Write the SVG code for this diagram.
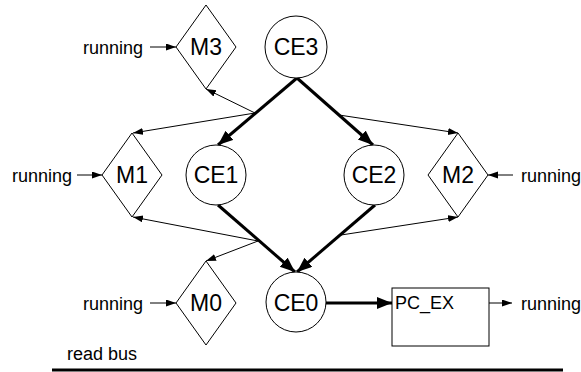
<svg xmlns="http://www.w3.org/2000/svg" width="581" height="372" viewBox="0 0 581 372">
<style>
text { font-family: "Liberation Sans", Arial, sans-serif; fill: #000; }
.lbl { font-size: 23px; text-anchor: middle; }
.sm { font-size: 18px; }
.node { fill: #fff; stroke: #000; stroke-width: 1; }
.thin { stroke: #000; stroke-width: 1; fill: none; marker-end: url(#ah); }
.thick { stroke: #000; stroke-width: 3; fill: none; marker-end: url(#ahb); }
</style>
<defs>
<marker id="ah" markerUnits="userSpaceOnUse" markerWidth="11" markerHeight="8" refX="10" refY="3.5" orient="auto">
<path d="M0,0 L10,3.5 L0,7 z" fill="#000"/>
</marker>
<marker id="ahb" markerUnits="userSpaceOnUse" markerWidth="16" markerHeight="13" refX="15" refY="6" orient="auto">
<path d="M0,0 L15,6 L0,12 z" fill="#000"/>
</marker>
</defs>
<rect width="581" height="372" fill="#fff"/>
<g id="connectors">
<line class="thick" x1="297" y1="78" x2="218" y2="145"/>
<line class="thick" x1="297" y1="78" x2="373" y2="145"/>
<line class="thick" x1="218" y1="205" x2="295" y2="272"/>
<line class="thick" x1="375" y1="205" x2="297" y2="272"/>
<line class="thick" x1="326" y1="303" x2="392" y2="303"/>
<line class="thin" x1="255" y1="113" x2="206" y2="89"/>
<line class="thin" x1="255" y1="113" x2="133" y2="133"/>
<line class="thin" x1="339" y1="115" x2="458" y2="133"/>
<line class="thin" x1="258" y1="241" x2="133" y2="217"/>
<line class="thin" x1="258" y1="241" x2="206" y2="261"/>
<line class="thin" x1="341" y1="235" x2="458" y2="217"/>
<line class="thin" x1="150" y1="47" x2="176" y2="47"/>
<line class="thin" x1="77" y1="175" x2="102" y2="175"/>
<line class="thin" x1="150" y1="303" x2="176" y2="303"/>
<line class="thin" x1="513" y1="175" x2="488" y2="175"/>
<line class="thin" x1="489" y1="303" x2="512" y2="303"/>
</g>
<g id="CE3"><circle class="node" cx="296" cy="47" r="31"/><text class="lbl" x="296" y="55">CE3</text></g>
<g id="CE1"><circle class="node" cx="216" cy="175" r="30"/><text class="lbl" x="216" y="183">CE1</text></g>
<g id="CE2"><circle class="node" cx="374" cy="175" r="30"/><text class="lbl" x="374" y="183">CE2</text></g>
<g id="CE0"><circle class="node" cx="296" cy="302" r="30"/><text class="lbl" x="296" y="311">CE0</text></g>
<g id="M3"><polygon class="node" points="206,5 236,47 206,89 176,47"/><text class="lbl" x="206" y="55">M3</text></g>
<g id="M1"><polygon class="node" points="132,133 162,175 132,217 102,175"/><text class="lbl" x="132" y="183">M1</text></g>
<g id="M0"><polygon class="node" points="206,261 236,303 206,345 176,303"/><text class="lbl" x="206" y="311">M0</text></g>
<g id="M2"><polygon class="node" points="458,133 488,175 458,217 428,175"/><text class="lbl" x="458" y="183">M2</text></g>
<g id="PC_EX"><rect class="node" x="392" y="288" width="97" height="58"/><text class="sm" x="395" y="309">PC_EX</text></g>
<g id="labels">
<text class="sm" x="83" y="54">running</text>
<text class="sm" x="12" y="182">running</text>
<text class="sm" x="83" y="310">running</text>
<text class="sm" x="521" y="182">running</text>
<text class="sm" x="521" y="310">running</text>
<text class="sm" x="67" y="360">read bus</text>
</g>
<g id="bus"><line x1="52" y1="370" x2="563" y2="370" stroke="#000" stroke-width="3"/></g>
</svg>
